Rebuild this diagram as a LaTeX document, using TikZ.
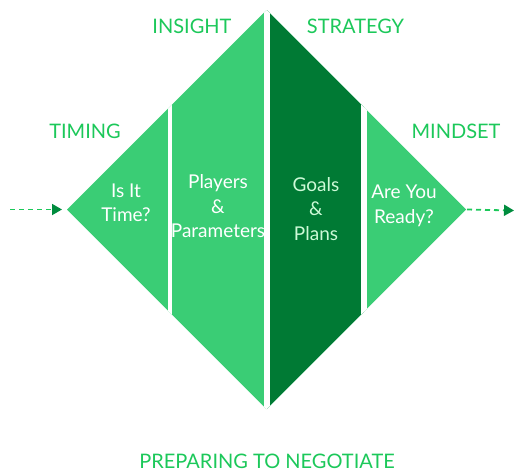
\documentclass[tikz,border=0pt]{standalone}
\usepackage{fontspec}
\setmainfont{Lato}
\usepackage{xcolor}
\usepackage{tikz}
\usetikzlibrary{arrows.meta,positioning}
\definecolor{leafgreen}{RGB}{58,205,117}
\definecolor{forestgreen}{RGB}{0,122,52}
\definecolor{labelgreen}{RGB}{28,200,90}
\definecolor{arrowgreen}{RGB}{0,140,62}
\definecolor{palegreen}{RGB}{205,250,215}
\tikzset{
  lightpiece/.style={fill=leafgreen},
  darkpiece/.style={fill=forestgreen},
  cut/.style={draw=white,line width=5pt},
  flow/.style={-{Triangle[length=10pt,width=11pt,color=arrowgreen]},line width=1.8pt,draw=labelgreen,dash pattern=on 5pt off 4pt}
}

\begin{document}
\begin{tikzpicture}[
  x=1pt,y=-1pt,
  steplabel/.style={font=\fontsize{20}{24}\selectfont,text=labelgreen,inner sep=0pt,anchor=base},
  inner/.style={font=\fontsize{19}{24.5}\selectfont,align=center,text=white,inner sep=0pt,anchor=base},
  title/.style={font=\fontsize{20}{24}\selectfont,text=labelgreen,inner sep=0pt,anchor=base}
]
\useasboundingbox (0,0) rectangle (514,472);

% corners of the diamond
\coordinate (W) at (67,209.5);
\coordinate (N) at (266.5,10);
\coordinate (E) at (466,209.5);
\coordinate (S) at (266.5,409);

\fill[lightpiece] (W)--(N)--(E)--(S)--cycle;
\begin{scope}
  \clip (266.5,0) rectangle (364,472);
  \fill[darkpiece] (W)--(N)--(E)--(S)--cycle;
\end{scope}

% white gaps between the four strips
\begin{scope}
  \clip (W)--(N)--(E)--(S)--cycle;
  \draw[cut,line width=4.5pt] (170,0)--(170,472);
  \draw[cut,line width=6pt] (266.5,0)--(266.5,472);
  \draw[cut,line width=5.5pt] (364,0)--(364,472);
\end{scope}

% flow in and out
\coordinate (inStart) at (10,209.5);
\coordinate (inEnd) at (62,209.5);
\coordinate (outEnd) at (514,210.5);
\draw[flow] (inStart) -- (inEnd);
\draw[flow] ([xshift=1pt]E) -- (outEnd);

% stage names
\node[steplabel] (timing)   at (85,138.3)   {TIMING};
\node[steplabel] (insight)  at (192,33.3)   {INSIGHT};
\node[steplabel] (strategy) at (355.5,33.3) {STRATEGY};
\node[steplabel] (mindset)  at (456,138.3)  {MINDSET};

% strip contents (base = last line)
\node[inner] (time)    at (126,221.7) {Is It\\Time?};
\node[inner] (players) at (218,237.7) {Players\\\&\\Parameters};
\node[inner,text=palegreen] (goals) at (316,240) {Goals\\\&\\Plans};
\node[inner] (ready)   at (404,223.3) {Are You\\Ready?};

\node[title] (prep) at (267,468) {PREPARING TO NEGOTIATE};

\end{tikzpicture}
\end{document}
